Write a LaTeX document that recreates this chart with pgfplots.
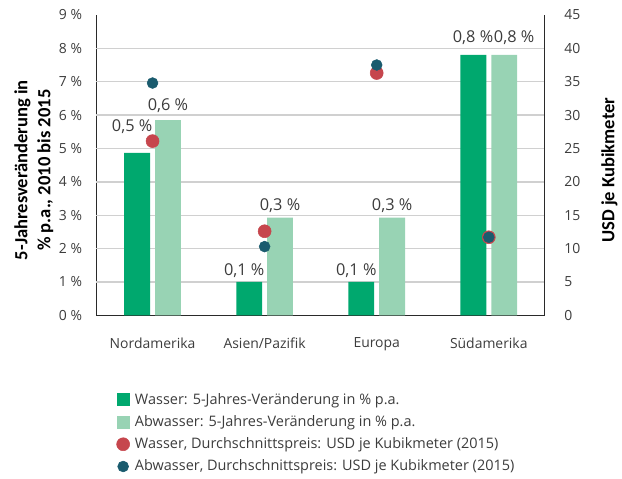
\documentclass[border=0pt]{standalone}
\usepackage{fontspec}
\setmainfont{Open Sans}
\newfontfamily\labelfont{Carlito}
\usepackage{pgfplots}
\pgfplotsset{compat=1.18}
\usetikzlibrary{calc}
\definecolor{wgreen}{HTML}{00A86E}
\definecolor{agreen}{HTML}{98D3B4}
\definecolor{wred}{HTML}{C6464D}
\definecolor{ablue}{HTML}{1A5B6E}
\definecolor{txt}{HTML}{3C3C3C}
\definecolor{axcol}{HTML}{2A2A2A}
\definecolor{gridc}{HTML}{D0D0D0}
\begin{document}
\begin{tikzpicture}[font=\fontsize{10.5}{12.5}\selectfont]
\pgfplotsset{
  common/.style={
    scale only axis, width=338pt, height=226.5pt,
    xmin=-0.5, xmax=3.5,
    /pgf/number format/assume math mode=true,
    tick label style={color=txt, font=\fontsize{10.5}{12.5}\selectfont},
    axis line style={color=axcol, line width=0.9pt},
    major tick length=0pt,
  }
}
\begin{axis}[common,
  ymin=0, ymax=9,
  axis x line*=bottom, axis y line*=left,
  ytick={0,...,9},
  yticklabel={\pgfmathprintnumber{\tick}~\%},
  yticklabel style={inner sep=0pt, anchor=east, xshift=-10.7pt},
  major y tick style={draw=none},
  xtick={0,1,2,3},
  xticklabels={Nordamerika,Asien/Pazifik,Europa,Südamerika},
  major x tick style={draw=none},
  xticklabel style={inner sep=0pt, anchor=north, yshift=-16.5pt},
  extra x ticks={-0.5,0.5,1.5,2.5,3.5},
  extra x tick labels={},
  extra x tick style={major tick length=10pt, tick align=center, major tick style={draw=axcol, line width=0.8pt}},
  extra y ticks={1,...,8},
  extra y tick labels={},
  extra y tick style={grid=major, major grid style={color=gridc, line width=1pt}},
  ylabel={5-Jahresveränderung in\\ \% p.a., 2010 bis 2015},
  ylabel style={font=\labelfont\fontsize{14}{17.25}\selectfont\bfseries, align=center, color=black,
    at={($(axis description cs:0,0.5)+(-47.25pt,-3.75pt)$)}, anchor=center},
  ybar=3.75pt, bar width=19.5pt,
  point meta=explicit symbolic,
  nodes near coords={\pgfplotspointmeta},
  nodes near coords style={color=txt, font=\fontsize{12.3}{14}\selectfont, inner sep=0pt, anchor=base, yshift=5pt},
  clip=false,
]
\addplot[fill=wgreen, draw=none, every node near coord/.append style={xshift=-3.75pt}] coordinates {(0,4.87) [\raisebox{10.75pt}{0,5 \%}] (1,1.0) [0,1 \%] (2,1.0) [0,1 \%] (3,7.8) [\hspace*{7pt}\raisebox{4.5pt}{0,8 \%}]};
\addplot[fill=agreen, draw=none] coordinates {(0,5.85) [\raisebox{2.5pt}{0,6 \%}] (1,2.93) [0,3 \%] (2,2.93) [0,3 \%] (3,7.8) [\hspace*{15pt}\raisebox{4.5pt}{0,8 \%}]};
\path (rel axis cs:0,0) ++(-72.75pt,-117.75pt) coordinate (bbsw);
\path (rel axis cs:1,1) ++(55.5pt,11.25pt) coordinate (bbne);
\end{axis}
\begin{axis}[common,
  ymin=0, ymax=45,
  axis y line*=right, axis x line=none,
  ytick={0,5,...,45},
  major y tick style={draw=none},
  yticklabel style={inner sep=0pt, anchor=west, xshift=14.6pt},
  ylabel={USD je Kubikmeter},
  ylabel style={font=\labelfont\fontsize{14}{17}\selectfont\bfseries, color=black,
    at={($(axis description cs:1,0.5)+(48.75pt,-3.75pt)$)}, anchor=center},
  clip=false,
  legend style={at={(0.0355,0)}, anchor=north west, yshift=-54.5pt, draw=none, fill=none,
    font=\fontsize{10.9}{13}\selectfont, text=txt, row sep=3pt,
    /tikz/every odd column/.append style={column sep=2pt}},
  legend cell align=left,
]
\addlegendimage{legend image code/.code={\fill[wgreen] (4pt,-4.5pt) rectangle (13pt,4.5pt);}}
\addlegendentry{Wasser: 5-Jahres-Veränderung in \% p.a.}
\addlegendimage{legend image code/.code={\fill[agreen] (4pt,-4.5pt) rectangle (13pt,4.5pt);}}
\addlegendentry{Abwasser: 5-Jahres-Veränderung in \% p.a.}
\addplot[only marks, mark=*, mark size=4.9pt, color=wred] coordinates {(0,26.1) (1,12.6) (2,36.3) (3,11.7)};
\addlegendentry{Wasser, Durchschnittspreis: USD je Kubikmeter (2015)}
\addplot[only marks, mark=*, mark size=4.1pt, color=ablue] coordinates {(0,34.8) (1,10.3) (2,37.5) (3,11.7)};
\addlegendentry{Abwasser, Durchschnittspreis: USD je Kubikmeter (2015)}
\end{axis}
\path[use as bounding box] (bbsw) rectangle (bbne);
\end{tikzpicture}
\end{document}
